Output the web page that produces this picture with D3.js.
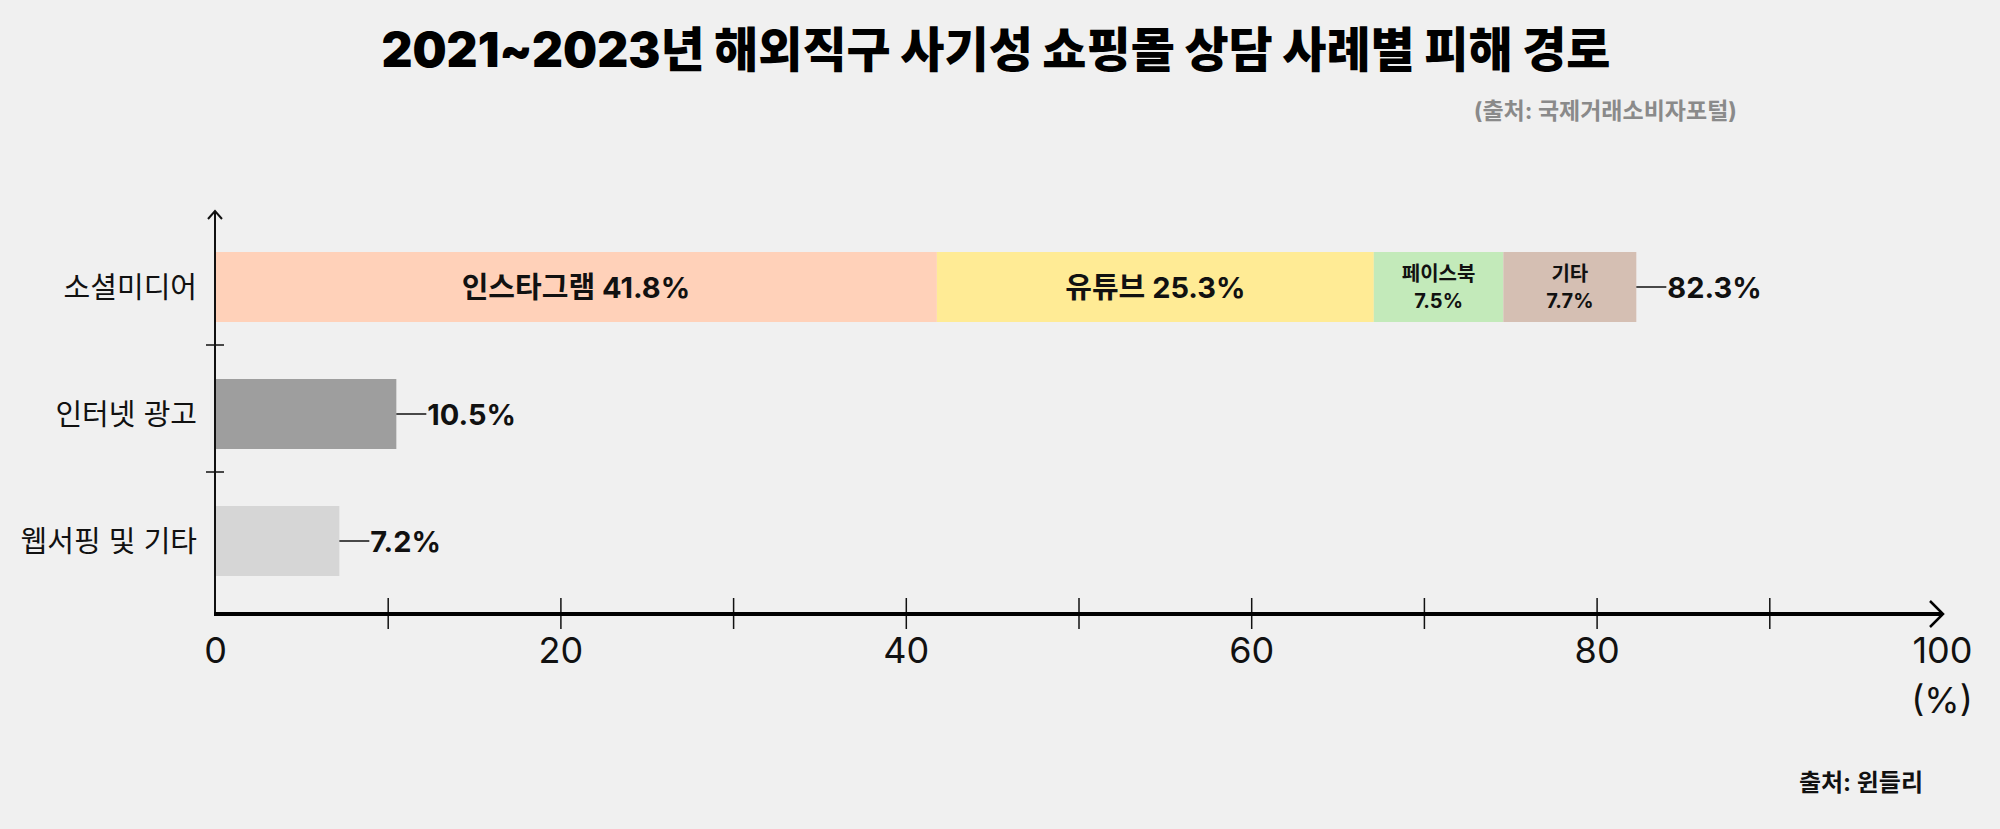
<!DOCTYPE html>
<html><head><meta charset="utf-8">
<script src="https://cdn.jsdelivr.net/npm/d3@7"></script>
<style>
html,body{margin:0;padding:0;background:#f0f0f0;}
svg{display:block;}
text{font-family:Inter,"Noto Sans CJK KR","Noto Sans",sans-serif;}
</style></head>
<body>
<svg id="chart" width="2000" height="829"></svg>
<script>
const categories = ["소셜미디어", "인터넷 광고", "웹서핑 및 기타"];
const socialSegments = ["인스타그램", "유튜브", "페이스북", "기타"];
const socialValues = [41.8, 25.3, 7.5, 7.7];
const otherCategoryValues = [10.5, 7.2];
const totals = [82.3, 10.5, 7.2];
const xTicks = [0, 10, 20, 30, 40, 50, 60, 70, 80, 90, 100];
const xTickLabels = ["0", "", "20", "", "40", "", "60", "", "80", "", "100"];

const segColors = ["#ffd1b9", "#ffeb95", "#c3eaba", "#d5bfb3"];
const otherColors = ["#9e9e9e", "#d6d6d6"];

const svg = d3.select("#chart");
const W = 2000, H = 829;
svg.append("rect").attr("width", W).attr("height", H).attr("fill", "#f0f0f0");

const x = d3.scaleLinear().domain([0, 100]).range([215, 1942]);
const y = d3.scaleBand().domain(categories).range([218, 599]).padding(0);
const barH = 70;
const barY = c => y(c) + (y.bandwidth() - barH) / 2 + 5.5;

// Title
svg.append("text").attr("x", 996).attr("y", 49)
  .attr("text-anchor", "middle").attr("dominant-baseline", "central")
  .attr("font-size", 48).attr("font-weight", 900).attr("fill", "#000")
  .text("2021~2023년 해외직구 사기성 쇼핑몰 상담 사례별 피해 경로");
svg.append("text").attr("x", 1737).attr("y", 111)
  .attr("text-anchor", "end").attr("dominant-baseline", "central")
  .attr("font-size", 23).attr("font-weight", 700).attr("fill", "#8a8a8a")
  .text("(출처: 국제거래소비자포털)");

// Stacked social bar
let acc = 0;
const stack = socialValues.map((v, i) => { const s = { name: socialSegments[i], v, x0: acc, x1: acc + v, color: segColors[i] }; acc += v; return s; });
const g = svg.append("g");
g.selectAll("rect.seg").data(stack).enter().append("rect")
  .attr("x", d => x(d.x0)).attr("y", barY(categories[0]))
  .attr("width", d => x(d.x1) - x(d.x0)).attr("height", barH)
  .attr("fill", d => d.color);

stack.forEach(d => {
  const cx = (x(d.x0) + x(d.x1)) / 2;
  const cy = barY(categories[0]) + barH / 2;
  const w = x(d.x1) - x(d.x0);
  if (w > 220) {
    g.append("text").attr("x", cx).attr("y", cy)
      .attr("text-anchor", "middle").attr("dominant-baseline", "central")
      .attr("font-size", 29).attr("font-weight", 700).attr("fill", "#111")
      .text(d.name + " " + d.v + "%");
  } else {
    g.append("text").attr("x", cx).attr("y", cy - 13)
      .attr("text-anchor", "middle").attr("dominant-baseline", "central")
      .attr("font-size", 20).attr("font-weight", 700).attr("fill", "#111")
      .text(d.name);
    g.append("text").attr("x", cx).attr("y", cy + 14)
      .attr("text-anchor", "middle").attr("dominant-baseline", "central")
      .attr("font-size", 20).attr("font-weight", 700).attr("fill", "#111")
      .text(d.v + "%");
  }
});

// Other bars
const others = categories.slice(1).map((c, i) => ({ c, v: otherCategoryValues[i], color: otherColors[i] }));
g.selectAll("rect.other").data(others).enter().append("rect")
  .attr("x", x(0)).attr("y", d => barY(d.c))
  .attr("width", d => x(d.v) - x(0)).attr("height", barH)
  .attr("fill", d => d.color);

// Total labels with leader lines
categories.forEach((c, i) => {
  const ex = x(totals[i]);
  const cy = barY(c) + barH / 2;
  g.append("line").attr("x1", ex).attr("x2", ex + 30).attr("y1", cy).attr("y2", cy)
    .attr("stroke", "#111").attr("stroke-width", 1.5);
  g.append("text").attr("x", ex + 31).attr("y", cy)
    .attr("dominant-baseline", "central")
    .attr("font-size", 29).attr("font-weight", 700).attr("fill", "#111")
    .text(totals[i] + "%");
});

// Category labels
svg.selectAll("text.cat").data(categories).enter().append("text")
  .attr("x", 197).attr("y", d => barY(d) + barH / 2)
  .attr("text-anchor", "end").attr("dominant-baseline", "central")
  .attr("font-size", 29).attr("font-weight", 400).attr("fill", "#111")
  .text(d => d);

// Y axis
const axisY = 614;
svg.append("line").attr("x1", x(0)).attr("x2", x(0)).attr("y1", 211).attr("y2", axisY)
  .attr("stroke", "#111").attr("stroke-width", 2);
svg.append("path").attr("d", `M${x(0) - 7},${219} L${x(0)},${211} L${x(0) + 7},${219}`)
  .attr("fill", "none").attr("stroke", "#111").attr("stroke-width", 2);
categories.slice(1).forEach(c => {
  const yy = y(c);
  svg.append("line").attr("x1", x(0) - 9).attr("x2", x(0) + 9).attr("y1", yy).attr("y2", yy)
    .attr("stroke", "#111").attr("stroke-width", 1.5);
});

// X axis
const xAxis = d3.axisBottom(x).tickValues(xTicks)
  .tickFormat((d, i) => xTickLabels[i]).tickSize(15).tickPadding(0);
const ax = svg.append("g").attr("transform", `translate(0,${axisY})`).call(xAxis);
ax.select(".domain").remove();
ax.selectAll(".tick line").attr("y1", -16).attr("y2", 15)
  .attr("stroke", "#111").attr("stroke-width", 1.5)
  .attr("display", d => (d === 0 || d === 100) ? "none" : null);
ax.selectAll(".tick text").attr("y", 36).attr("dy", null)
  .attr("dominant-baseline", "central")
  .attr("font-size", 36).attr("font-weight", 400).attr("fill", "#111")
  .attr("font-family", "Inter, 'Noto Sans CJK KR', sans-serif");
svg.append("line").attr("x1", x(0) - 1).attr("x2", x(100)).attr("y1", axisY).attr("y2", axisY)
  .attr("stroke", "#000").attr("stroke-width", 4);
svg.append("path").attr("d", `M${x(100) - 12},${axisY - 13} L${x(100) + 1},${axisY} L${x(100) - 12},${axisY + 13}`)
  .attr("fill", "none").attr("stroke", "#000").attr("stroke-width", 2.5);
svg.append("text").attr("x", x(100)).attr("y", 700)
  .attr("text-anchor", "middle").attr("dominant-baseline", "central")
  .attr("font-size", 36).attr("font-weight", 400).attr("fill", "#111")
  .text("(%)");

// Footer source
svg.append("text").attr("x", 1923).attr("y", 782)
  .attr("text-anchor", "end").attr("dominant-baseline", "central")
  .attr("font-size", 24).attr("font-weight", 700).attr("fill", "#111")
  .text("출처: 윈들리");
</script>
</body></html>
